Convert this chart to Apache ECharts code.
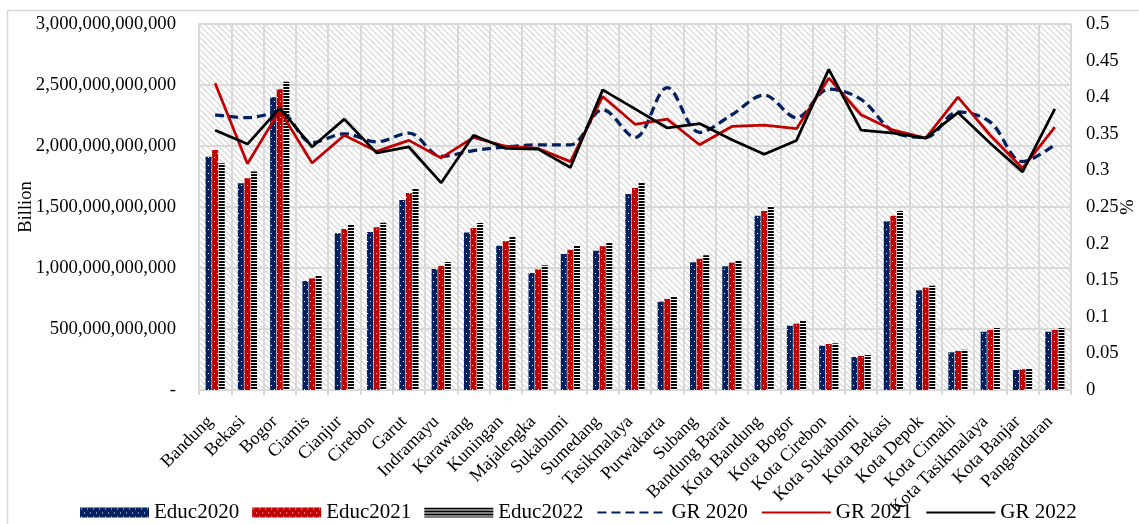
<!DOCTYPE html>
<html>
<head>
<meta charset="utf-8">
<script src="https://cdn.jsdelivr.net/npm/echarts@6/dist/echarts.min.js"></script>
<style>
  html, body { margin: 0; padding: 0; background: #fff; overflow: hidden; }
  #chart { width: 1139px; height: 524px; }
</style>
</head>
<body>
<div id="chart"></div>
<script>
// Regencies and cities of West Java
const categories = ['Bandung', 'Bekasi', 'Bogor', 'Ciamis', 'Cianjur', 'Cirebon', 'Garut', 'Indramayu',
  'Karawang', 'Kuningan', 'Majalengka', 'Sukabumi', 'Sumedang', 'Tasikmalaya', 'Purwakarta', 'Subang',
  'Bandung Barat', 'Kota Bandung', 'Kota Bogor', 'Kota Cirebon', 'Kota Sukabumi', 'Kota Bekasi',
  'Kota Depok', 'Kota Cimahi', 'Kota Tasikmalaya', 'Kota Banjar', 'Pangandaran'];

// Education spending (left axis)
const educ2020 = [1.912e12, 1.694e12, 2.400e12, 0.893e12, 1.284e12, 1.295e12, 1.557e12, 0.992e12, 1.290e12,
  1.183e12, 0.959e12, 1.115e12, 1.142e12, 1.607e12, 0.724e12, 1.047e12, 1.014e12, 1.429e12, 0.527e12,
  0.363e12, 0.270e12, 1.383e12, 0.817e12, 0.309e12, 0.478e12, 0.164e12, 0.478e12];
const educ2021 = [1.967e12, 1.735e12, 2.465e12, 0.915e12, 1.320e12, 1.333e12, 1.615e12, 1.016e12, 1.328e12,
  1.221e12, 0.989e12, 1.150e12, 1.178e12, 1.656e12, 0.746e12, 1.076e12, 1.044e12, 1.467e12, 0.544e12,
  0.377e12, 0.279e12, 1.429e12, 0.839e12, 0.320e12, 0.492e12, 0.170e12, 0.492e12];
const educ2022 = [1.858e12, 1.790e12, 2.527e12, 0.934e12, 1.358e12, 1.371e12, 1.656e12, 1.049e12, 1.369e12,
  1.257e12, 1.022e12, 1.183e12, 1.208e12, 1.697e12, 0.765e12, 1.104e12, 1.066e12, 1.508e12, 0.566e12,
  0.383e12, 0.287e12, 1.467e12, 0.855e12, 0.330e12, 0.508e12, 0.172e12, 0.508e12];

// GR ratio (right axis, %)
const gr2020 = [0.376, 0.372, 0.379, 0.338, 0.350, 0.339, 0.351, 0.319, 0.327, 0.332, 0.335, 0.335, 0.383,
  0.345, 0.413, 0.352, 0.376, 0.403, 0.372, 0.411, 0.397, 0.353, 0.345, 0.380, 0.366, 0.312, 0.335];
const gr2021 = [0.419, 0.309, 0.382, 0.310, 0.348, 0.326, 0.341, 0.317, 0.345, 0.333, 0.330, 0.312, 0.401,
  0.363, 0.370, 0.335, 0.360, 0.362, 0.357, 0.426, 0.376, 0.355, 0.344, 0.400, 0.348, 0.303, 0.359];
const gr2022 = [0.355, 0.336, 0.385, 0.332, 0.370, 0.324, 0.332, 0.283, 0.348, 0.330, 0.329, 0.304, 0.410,
  0.384, 0.358, 0.364, 0.342, 0.322, 0.341, 0.438, 0.355, 0.351, 0.344, 0.379, 0.337, 0.298, 0.384];

// Axis ranges
const leftAxis = { min: 0, max: 3e12, interval: 5e11, name: 'Billion' };
const rightAxis = { min: 0, max: 0.5, interval: 0.05, name: '%' };

const FONT = 'Liberation Serif';

// Fill patterns drawn on small canvases
function makePattern(w, h, draw) {
  const c = document.createElement('canvas');
  c.width = w; c.height = h;
  draw(c.getContext('2d'));
  return { image: c, repeat: 'repeat' };
}
function dotted(base) {
  return makePattern(6, 8, ctx => {
    ctx.fillStyle = base; ctx.fillRect(0, 0, 6, 8);
    ctx.fillStyle = '#ffffff';
    ctx.fillRect(1, 1, 1, 1);
    ctx.fillRect(4, 5, 1, 1);
  });
}
const navyDots = dotted('#002060');
const redDots = dotted('#C00000');
const blackStripes = makePattern(4, 3, ctx => {
  ctx.fillStyle = '#ffffff'; ctx.fillRect(0, 0, 4, 3);
  ctx.fillStyle = '#000000'; ctx.fillRect(0, 0, 4, 2);
});
const hatch = makePattern(6, 6, ctx => {
  ctx.fillStyle = '#ffffff'; ctx.fillRect(0, 0, 6, 6);
  ctx.fillStyle = '#dedede';
  for (let y = 0; y < 6; y++) {
    for (let x = 0; x < 6; x++) {
      const d = ((x - y) % 6 + 6) % 6;
      if (d === 0 || d === 1) ctx.fillRect(x, y, 1, 1);
    }
  }
});

const gridColor = '#d9d9d9';
const chart = echarts.init(document.getElementById('chart'));

function barSeries(name, data, fill) {
  return {
    name, type: 'bar', data, yAxisIndex: 0,
    barWidth: 6, barGap: '10%',
    itemStyle: { color: fill },
    emphasis: { disabled: true }
  };
}
function lineSeries(name, data, color, width, type, smooth) {
  return {
    name, type: 'line', data, yAxisIndex: 1,
    symbol: 'none', smooth,
    lineStyle: { color, width, type },
    itemStyle: { color },
    emphasis: { disabled: true },
    z: 3
  };
}
// legend entries for lines show only the stroke
const lineLegendItem = name => ({ name, itemStyle: { opacity: 0 } });

chart.setOption({
  animation: false,
  backgroundColor: '#ffffff',
  textStyle: { fontFamily: FONT, color: '#000' },
  graphic: [{
    type: 'rect', silent: true, z: -10,
    shape: { x: 7.5, y: 10.5, width: 1150, height: 540 },
    style: { fill: 'none', stroke: gridColor, lineWidth: 1.5 }
  }],
  grid: {
    left: 199, right: 68, top: 24, bottom: 134,
    containLabel: false, outerBoundsMode: 'none',
    show: true, backgroundColor: hatch, borderWidth: 0
  },
  legend: {
    left: 75, top: 497,
    itemWidth: 69, itemHeight: 10, itemGap: 13,
    textStyle: { fontFamily: FONT, fontSize: 21, color: '#000' },
    data: [
      { name: 'Educ2020', icon: 'rect' },
      { name: 'Educ2021', icon: 'rect' },
      { name: 'Educ2022', icon: 'rect' },
      lineLegendItem('GR 2020'),
      lineLegendItem('GR 2021'),
      lineLegendItem('GR 2022')
    ]
  },
  xAxis: {
    type: 'category', data: categories, boundaryGap: true,
    axisLine: { show: true, lineStyle: { color: gridColor, width: 2 } },
    axisTick: { show: true, interval: 0, length: 5, lineStyle: { color: gridColor, width: 2 } },
    splitLine: { show: true, interval: 0, lineStyle: { color: gridColor, width: 2 } },
    axisLabel: {
      interval: 0, rotate: 45, margin: 24, padding: [0, 7, 0, 0],
      fontFamily: FONT, fontSize: 18, color: '#000'
    }
  },
  yAxis: [{
    type: 'value', position: 'left',
    min: leftAxis.min, max: leftAxis.max, interval: leftAxis.interval,
    name: leftAxis.name, nameLocation: 'middle', nameGap: 163, nameMoveOverlap: false,
    nameTextStyle: { fontFamily: FONT, fontSize: 18.5, color: '#000' },
    axisLine: { show: true, lineStyle: { color: gridColor, width: 2 } },
    axisTick: { show: false },
    splitLine: { show: true, lineStyle: { color: gridColor, width: 2 } },
    axisLabel: {
      margin: 23, fontFamily: FONT, fontSize: 18.7, color: '#000',
      formatter: v => v === 0 ? '-' : v.toLocaleString('en-US')
    }
  }, {
    type: 'value', position: 'right',
    min: rightAxis.min, max: rightAxis.max, interval: rightAxis.interval,
    name: rightAxis.name, nameLocation: 'middle', nameGap: 48, nameMoveOverlap: false,
    nameTextStyle: { fontFamily: FONT, fontSize: 18.5, color: '#000' },
    axisLine: { show: false },
    axisTick: { show: false },
    splitLine: { show: false },
    axisLabel: {
      margin: 15, fontFamily: FONT, fontSize: 18.7, color: '#000',
      formatter: v => String(parseFloat(v.toFixed(2)))
    }
  }],
  series: [
    barSeries('Educ2020', educ2020, navyDots),
    barSeries('Educ2021', educ2021, redDots),
    barSeries('Educ2022', educ2022, blackStripes),
    lineSeries('GR 2020', gr2020, '#002060', 3.25, [9, 5], 0.35),
    lineSeries('GR 2021', gr2021, '#C00000', 2.75, 'solid', false),
    lineSeries('GR 2022', gr2022, '#000000', 2.75, 'solid', false)
  ]
});
</script>
</body>
</html>
